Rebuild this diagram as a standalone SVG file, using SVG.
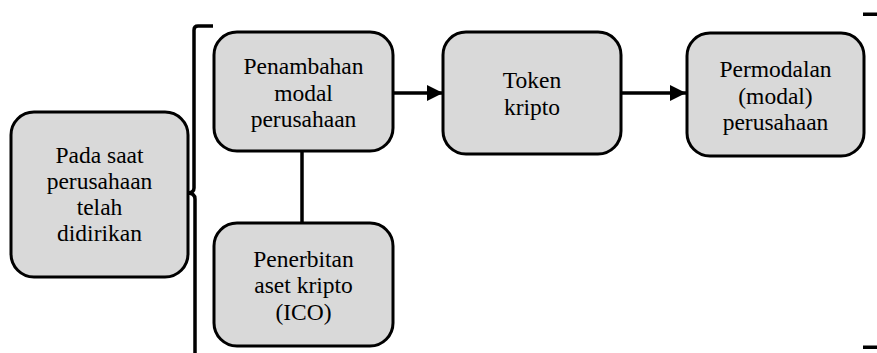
<svg xmlns="http://www.w3.org/2000/svg" width="877" height="353" viewBox="0 0 877 353">
  <style>
    .box { fill: #d9d9d9; stroke: #000; stroke-width: 3; }
    .lbl { font-family: "Liberation Serif", "Times New Roman", serif; font-size: 23.5px; fill: #000; text-anchor: middle; }
    .conn { stroke: #000; stroke-width: 3.5; fill: none; }
    .mark { fill: #000; }
  </style>
  <defs>
    <marker id="arrow" markerUnits="userSpaceOnUse" markerWidth="17" markerHeight="17" refX="16" refY="8.5" orient="auto">
      <path d="M0,0.5 L16,8.5 L0,16.5 Z" fill="#000"/>
    </marker>
  </defs>

  <!-- brace and edge ticks -->
  <g id="brace">
    <path class="conn" d="M213,26 L198,26 Q194,26 194,30 L194,188 Q194,193 187,193 Q195,193 195,199 L195,353"/>
    <rect class="mark" x="863" y="12.5" width="14" height="3.5"/>
    <rect class="mark" x="863" y="345.5" width="14" height="3.5"/>
  </g>

  <!-- connectors -->
  <g id="connectors">
    <line class="conn" x1="393" y1="93" x2="443" y2="93" marker-end="url(#arrow)"/>
    <line class="conn" x1="621" y1="93" x2="686" y2="93" marker-end="url(#arrow)"/>
    <line class="conn" x1="302" y1="151" x2="302" y2="223"/>
  </g>

  <g id="node-start">
    <rect class="box" x="11" y="112" width="177" height="165" rx="23"/>
    <text class="lbl" x="99.5" y="163">Pada saat</text>
    <text class="lbl" x="99.5" y="189">perusahaan</text>
    <text class="lbl" x="99.5" y="215">telah</text>
    <text class="lbl" x="99.5" y="241">didirikan</text>
  </g>

  <g id="node-modal">
    <rect class="box" x="214" y="32" width="179" height="119" rx="23"/>
    <text class="lbl" x="303.5" y="74">Penambahan</text>
    <text class="lbl" x="303.5" y="100.5">modal</text>
    <text class="lbl" x="303.5" y="127">perusahaan</text>
  </g>

  <g id="node-token">
    <rect class="box" x="443" y="32" width="178" height="122" rx="23"/>
    <text class="lbl" x="532" y="88">Token</text>
    <text class="lbl" x="532" y="115">kripto</text>
  </g>

  <g id="node-permodalan">
    <rect class="box" x="687" y="33" width="177" height="123" rx="23"/>
    <text class="lbl" x="775.5" y="77">Permodalan</text>
    <text class="lbl" x="775.5" y="103.5">(modal)</text>
    <text class="lbl" x="775.5" y="130">perusahaan</text>
  </g>

  <g id="node-ico">
    <rect class="box" x="214" y="223" width="179" height="123" rx="23"/>
    <text class="lbl" x="303.5" y="266.5">Penerbitan</text>
    <text class="lbl" x="303.5" y="293">aset kripto</text>
    <text class="lbl" x="303.5" y="319.5">(ICO)</text>
  </g>
</svg>
